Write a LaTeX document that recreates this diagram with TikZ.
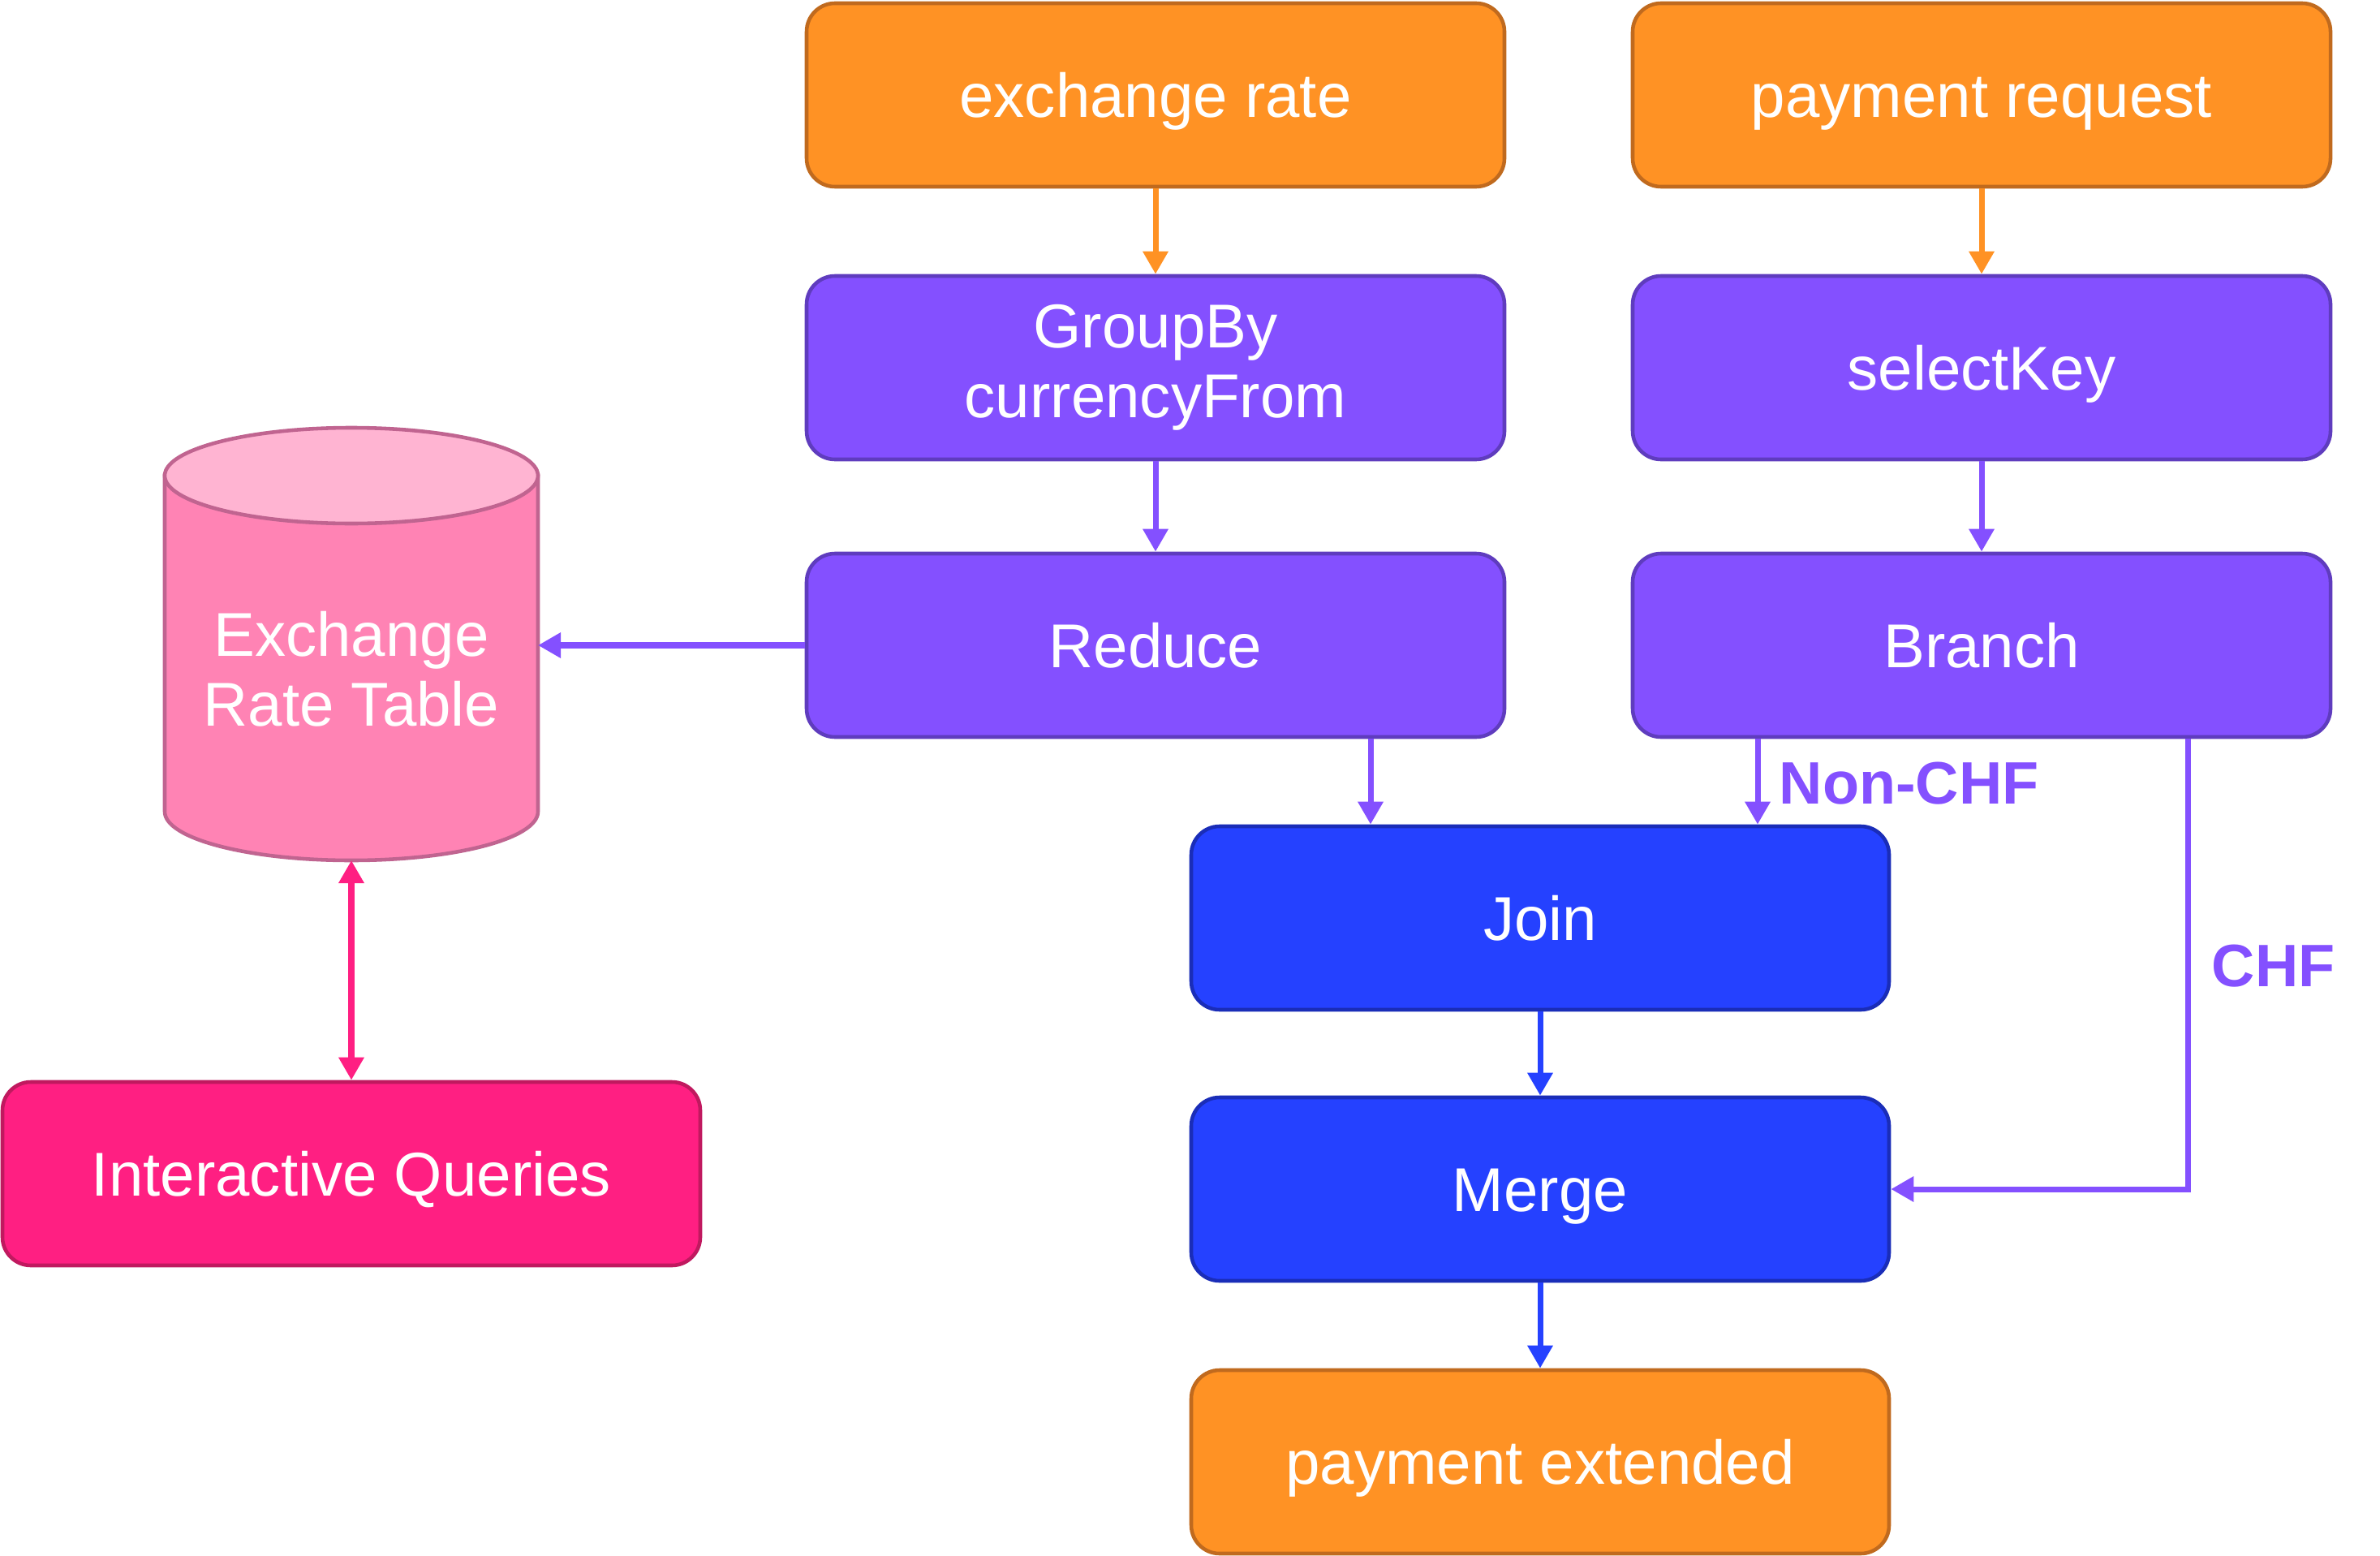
\documentclass[tikz,border=0pt]{standalone}
\usepackage{fontspec}
\setmainfont{Liberation Sans}
\usetikzlibrary{arrows.meta}

\definecolor{topicfill}{HTML}{FF9224}
\definecolor{topicline}{HTML}{C06A1E}
\definecolor{opfill}{HTML}{8450FF}
\definecolor{opline}{HTML}{5F3CBE}
\definecolor{joinfill}{HTML}{2541FF}
\definecolor{joinline}{HTML}{1A2DB8}
\definecolor{iqfill}{HTML}{FF1F82}
\definecolor{iqline}{HTML}{C0195F}
\definecolor{cylbody}{HTML}{FF83B4}
\definecolor{cyltop}{HTML}{FFB4D2}
\definecolor{cylline}{HTML}{C06490}

\begin{document}
\begin{tikzpicture}[
    box/.style={rounded corners=0.35cm, minimum width=8.6cm, minimum height=2.26cm,
      line width=1.3pt, text=white, align=center, font=\fontsize{21.7}{24.5}\selectfont},
    oneline/.style={text height=15.8pt, text depth=0pt},
    topic/.style={box, draw=topicline, fill=topicfill},
    op/.style={box, draw=opline, fill=opfill},
    joinop/.style={box, draw=joinline, fill=joinfill},
    iqbox/.style={box, draw=iqline, fill=iqfill},
    flow/.style={line width=2pt, -{Triangle[length=8pt,width=8.5pt]}},
    lbl/.style={text=opfill, inner sep=0pt, font=\fontsize{21}{24}\selectfont\bfseries}]
  \useasboundingbox (0,0) rectangle (29.33,-19.17);
  % LEFT STREAM
  \node[topic, oneline] (rate) at (14.24,-1.17) {exchange rate};
  \node[op] (group) at (14.24,-4.53) {GroupBy\\currencyFrom};
  \node[op, oneline] (reduce) at (14.24,-7.95) {Reduce};
  % RIGHT STREAM
  \node[topic, oneline] (pay) at (24.42,-1.17) {payment request};
  \node[op, oneline] (select) at (24.42,-4.53) {selectKey};
  \node[op, oneline] (branch) at (24.42,-7.95) {Branch};
  % JOINED PART
  \node[joinop, oneline] (join) at (18.98,-11.31) {Join};
  \node[joinop, oneline] (merge) at (18.98,-14.65) {Merge};
  \node[topic, oneline] (out) at (18.98,-18.01) {payment extended};
  % STORE
  \draw[cylline, line width=1.3pt, fill=cylbody] (2.03,-5.86) -- (2.03,-10.0)
    arc[start angle=180, end angle=360, x radius=2.30, y radius=0.60] -- (6.63,-5.86) -- cycle;
  \draw[cylline, line width=1.3pt, fill=cyltop] (4.33,-5.86) ellipse [x radius=2.30, y radius=0.59];
  \node[minimum width=4.6cm, minimum height=5.33cm, inner sep=0, outer sep=0] (ert) at (4.33,-7.935) {};
  \node[text=white, align=center, font=\fontsize{21.7}{24.5}\selectfont] (ertlabel) at (4.33,-8.24) {Exchange\\Rate Table};
  \node[iqbox, oneline] (iq) at (4.33,-14.46) {Interactive Queries};
  % ARROWS
  \draw[flow, topicfill] (rate) -- (group);
  \draw[flow, topicfill] (pay) -- (select);
  \draw[flow, opfill] (group) -- (reduce);
  \draw[flow, opfill] (select) -- (branch);
  \draw[flow, opfill] (reduce.west) -- (reduce.west -| ert.east);
  \draw[flow, opfill] ([xshift=2.65cm]reduce.south) -- ([xshift=2.65cm]reduce.south |- join.north);
  \draw[flow, opfill] ([xshift=-2.76cm]branch.south) -- ([xshift=-2.76cm]branch.south |- join.north);
  \draw[flow, opfill] ([xshift=2.54cm]branch.south) |- (merge.east);
  \draw[flow, joinfill] (join) -- (merge);
  \draw[flow, joinfill] (merge) -- (out);
  \draw[flow, iqfill, {Triangle[length=8pt,width=8.5pt]}-{Triangle[length=8pt,width=8.5pt]}] (ert.south) -- (iq.north);
  % LABELS
  \node[lbl, anchor=west] (nonchf) at (21.92,-9.65) {Non-CHF};
  \node[lbl, anchor=west] (chf) at (27.25,-11.9) {CHF};
\end{tikzpicture}
\end{document}
